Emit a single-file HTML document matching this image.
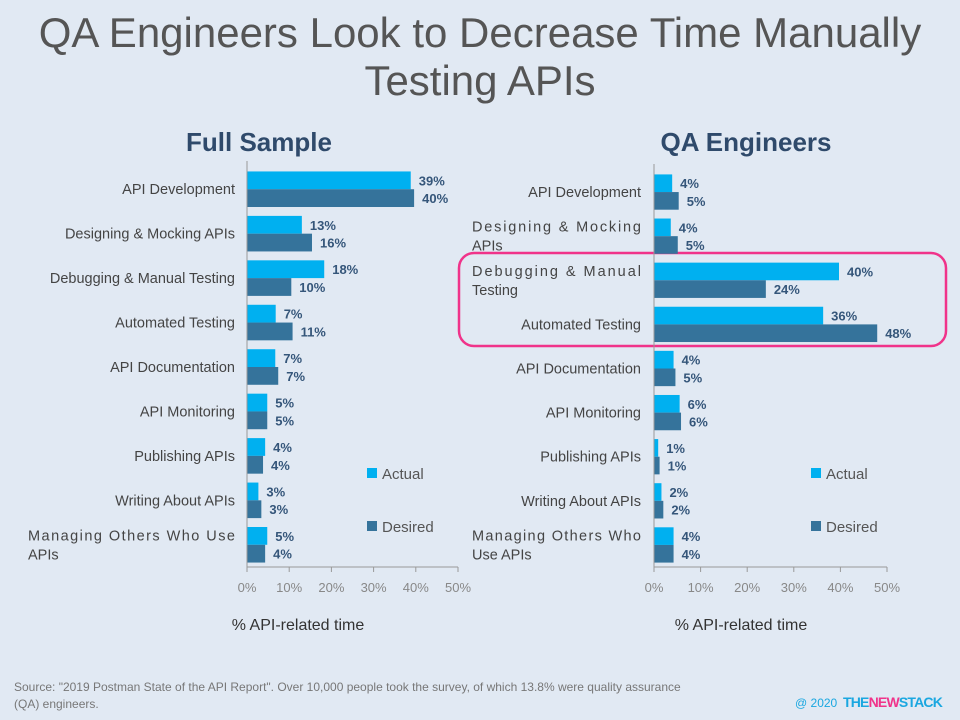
<!DOCTYPE html>
<html><head><meta charset="utf-8"><style>
body{margin:0;background:#e1e9f3;}
svg{display:block;font-family:"Liberation Sans",sans-serif;}
</style></head><body>
<svg id="s" width="960" height="720" viewBox="0 0 960 720">
<rect width="960" height="720" fill="#e1e9f3"/>
<text x="480" y="47" text-anchor="middle" font-size="42" fill="#555">QA Engineers Look to Decrease Time Manually</text>
<text x="480" y="95" text-anchor="middle" font-size="42" fill="#555">Testing APIs</text>
<text x="259" y="151" text-anchor="middle" font-size="26" font-weight="bold" fill="#2f4a6b">Full Sample</text>
<text x="746" y="151" text-anchor="middle" font-size="26" font-weight="bold" fill="#2f4a6b">QA Engineers</text>
<rect x="459" y="253" width="487" height="93" rx="15" fill="none" stroke="#f0338a" stroke-width="2.5"/>
<text x="14" y="691" font-size="12" fill="#777">Source: "2019 Postman State of the API Report". Over 10,000 people took the survey, of which 13.8% were quality assurance</text>
<text x="14" y="708" font-size="12" fill="#777">(QA) engineers.</text>
<text x="795" y="707" font-size="12" fill="#1aa7e0">@ 2020</text>
<text x="843" y="707" font-size="14" font-weight="bold" fill="#1aa7e0" letter-spacing="-0.8">THE<tspan fill="#f0338a">NEW</tspan>STACK</text>
</svg>
<script>
const categoriesLeft=[["API Development"],["Designing & Mocking APIs"],["Debugging & Manual Testing"],["Automated Testing"],["API Documentation"],["API Monitoring"],["Publishing APIs"],["Writing About APIs"],["Managing Others Who Use","APIs"]];
const categoriesRight=[["API Development"],["Designing & Mocking","APIs"],["Debugging & Manual","Testing"],["Automated Testing"],["API Documentation"],["API Monitoring"],["Publishing APIs"],["Writing About APIs"],["Managing Others Who","Use APIs"]];
const actualFull=[38.8,13,18.3,6.8,6.7,4.8,4.3,2.7,4.8];
const desiredFull=[39.6,15.4,10.5,10.8,7.4,4.8,3.8,3.4,4.3];
const labelsActualFull=["39%","13%","18%","7%","7%","5%","4%","3%","5%"];
const labelsDesiredFull=["40%","16%","10%","11%","7%","5%","4%","3%","4%"];
const actualQA=[3.9,3.6,39.7,36.3,4.2,5.5,0.9,1.6,4.2];
const desiredQA=[5.3,5.1,24.0,47.9,4.6,5.8,1.2,2.0,4.2];
const labelsActualQA=["4%","4%","40%","36%","4%","6%","1%","2%","4%"];
const labelsDesiredQA=["5%","5%","24%","48%","5%","6%","1%","2%","4%"];
const ticks=[0,10,20,30,40,50];
const NS="http://www.w3.org/2000/svg";
const svg=document.getElementById('s');
function el(t,a,txt){const e=document.createElementNS(NS,t);for(const k in a)e.setAttribute(k,a[k]);if(txt!==undefined)e.textContent=txt;svg.appendChild(e);return e;}
function chart(p){
  const x=v=>p.x0+(v/50)*(p.x1-p.x0);
  const band=(p.y1-p.y0)/p.cats.length;
  const bh=band*0.4;
  p.cats.forEach((c,i)=>{
    const yc=p.y0+band*i+band/2;
    const b1=el('rect',{x:x(0),y:yc-bh,width:x(p.a[i])-x(0),height:bh,fill:'#00b0f0'});
    
    
    const b2=el('rect',{x:x(0),y:yc,width:x(p.d[i])-x(0),height:bh,fill:'#35739b'});
    
    
    const t1=el('text',{x:x(p.a[i])+8,y:yc-bh/2+5,'font-size':13,'font-weight':'bold',fill:'#35567a'},p.la[i]);
    
    
    const t2=el('text',{x:x(p.d[i])+8,y:yc+bh/2+5,'font-size':13,'font-weight':'bold',fill:'#35567a'},p.ld[i]);
    
    
    const n=c.length;
    c.forEach((line,j)=>{
      let attrs={y:yc+5+(j-(n-1)/2)*19,'font-size':14.5,fill:'#444'};
      if(n>1&&j===0){attrs.x=p.lx0;attrs.textLength=p.lx1-p.lx0;attrs.lengthAdjust='spacing';}
      else if(n>1){attrs.x=p.lx0;}
      else {attrs.x=p.lx1;attrs['text-anchor']='end';}
      const t=el('text',attrs,line);
      
      
    });
  });
  const ax=el('line',{x1:p.x0,y1:p.y0-6,x2:p.x0,y2:p.y1,stroke:'#999'});
  
  
  const bx=el('line',{x1:p.x0,y1:p.y1,x2:p.x1,y2:p.y1,stroke:'#999'});
  
  
  ticks.forEach(t=>{
    const tk=el('line',{x1:x(t),y1:p.y1,x2:x(t),y2:p.y1+5,stroke:'#999'});
    
    
    const tl=el('text',{x:x(t),y:p.y1+25,'text-anchor':'middle','font-size':13,fill:'#888'},t+'%');
    
    
  });
  const at=el('text',{x:p.titleX,y:p.y1+63,'text-anchor':'middle','font-size':16,fill:'#333'},'% API-related time');
  
  
  const l1=el('rect',{x:p.legX,y:468,width:10,height:10,fill:'#00b0f0'});
  
  
  const l1t=el('text',{x:p.legX+15,y:479,'font-size':15,fill:'#555'},'Actual');
  
  
  const l2=el('rect',{x:p.legX,y:521,width:10,height:10,fill:'#35739b'});
  
  
  const l2t=el('text',{x:p.legX+15,y:532,'font-size':15,fill:'#555'},'Desired');
  
  
}
chart({id:'full',cats:categoriesLeft,a:actualFull,d:desiredFull,la:labelsActualFull,ld:labelsDesiredFull,x0:247,x1:458,y0:167,y1:567,lx0:28,lx1:235,titleX:298,legX:367});
chart({id:'qa',cats:categoriesRight,a:actualQA,d:desiredQA,la:labelsActualQA,ld:labelsDesiredQA,x0:654,x1:887,y0:170,y1:567,lx0:472,lx1:641,titleX:741,legX:811});
</script>
</body></html>
